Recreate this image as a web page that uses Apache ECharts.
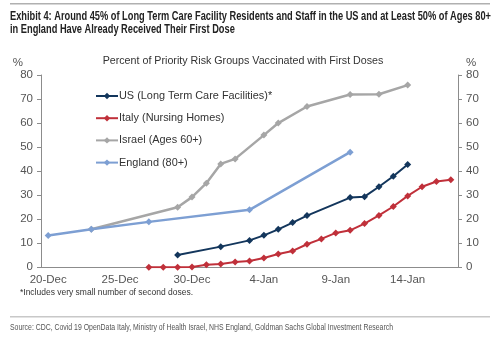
<!DOCTYPE html>
<html><head><meta charset="utf-8">
<script src="https://cdn.jsdelivr.net/npm/echarts@6/dist/echarts.min.js"></script>
<style>html,body{margin:0;padding:0;background:#fff}#c{width:500px;height:339px}</style>
</head><body><div id="c"></div>
<script>
const categories = ['20-Dec','21-Dec','22-Dec','23-Dec','24-Dec','25-Dec','26-Dec','27-Dec','28-Dec','29-Dec','30-Dec','31-Dec','1-Jan','2-Jan','3-Jan','4-Jan','5-Jan','6-Jan','7-Jan','8-Jan','9-Jan','10-Jan','11-Jan','12-Jan','13-Jan','14-Jan','15-Jan','16-Jan','17-Jan'];
const usValues      = [null,null,null,null,null,null,null,null,null,5.1,null,null,8.6,null,11.2,13.3,15.8,18.6,21.5,null,null,29.0,29.4,33.5,37.9,42.8,null,null,null];
const italyValues   = [null,null,null,null,null,null,null,0,0,0,0.1,1.1,1.4,2.2,2.6,3.9,5.5,6.8,9.6,11.8,14.3,15.4,18.2,21.6,25.3,29.7,33.5,35.7,36.4];
const israelValues  = [null,null,null,15.8,null,null,null,null,null,25.0,29.2,35.0,43.0,45.1,null,55.0,60.0,null,66.9,null,null,71.9,null,72.0,null,75.8,null,null,null];
const englandValues = [13.2,null,null,15.8,null,null,null,18.9,null,null,null,null,null,null,23.9,null,null,null,null,null,null,47.9,null,null,null,null,null,null,null];
const seriesNames = ['US (Long Term Care Facilities)*','Italy (Nursing Homes)','Israel (Ages 60+)','England (80+)'];
const yTicks = [0,10,20,30,40,50,60,70,80];

const titleLine1 = 'Exhibit 4: Around 45% of Long Term Care Facility Residents and Staff in the US and at Least 50% of Ages 80+';
const titleLine2 = 'in England Have Already Received Their First Dose';
const chartTitle = 'Percent of Priority Risk Groups Vaccinated with First Doses';
const footnote = '*Includes very small number of second doses.';
const sourceText = 'Source: CDC, Covid 19 OpenData Italy, Ministry of Health Israel, NHS England, Goldman Sachs Global Investment Research';

const cv = document.createElement('canvas').getContext('2d');
function fitScale(text, font, target){ cv.font = font; return target / cv.measureText(text).width; }
const tFont = 'bold 12px Arial, "Liberation Sans", sans-serif';
const s1 = fitScale(titleLine1, tFont, 481);
const sFont = '9px Arial, "Liberation Sans", sans-serif';
const s3 = fitScale(sourceText, sFont, 383);
const fFont = '9.5px Arial, "Liberation Sans", sans-serif';
const s4 = fitScale(footnote, fFont, 173);

const colors = ['#13365c','#c0303a','#a6a6a6','#7d9fd3'];
function mk(name, data, color, width){
  return {name, type:'line', data, connectNulls:true, symbol:'diamond', symbolSize:7,
    lineStyle:{color, width}, itemStyle:{color}, animation:false};
}
const chart = echarts.init(document.getElementById('c'));
chart.setOption({
  animation:false,
  color: colors,
  textStyle:{fontFamily:'Arial, "Liberation Sans", sans-serif'},
  grid:{left:41, right:42, top:75, bottom:71.7},
  legend:{orient:'vertical', left:95, top:90.5, padding:0, itemWidth:22, itemHeight:8, itemGap:11.2,
    textStyle:{fontSize:10.9, color:'#333', padding:[0,0,0,-4]}, data:seriesNames},
  xAxis:{type:'category', data:categories, boundaryGap:true,
    axisLine:{lineStyle:{color:'#8c8c8c', width:1}},
    axisTick:{interval:4, length:4, lineStyle:{color:'#8c8c8c'}},
    axisLabel:{interval:4, fontSize:11.5, color:'#555', margin:7}},
  yAxis:[
    {type:'value', min:yTicks[0], max:yTicks[yTicks.length-1], interval:10, position:'left',
     axisLine:{show:true, lineStyle:{color:'#8c8c8c'}}, axisTick:{show:true, length:4},
     splitLine:{show:false}, axisLabel:{fontSize:11.5, color:'#555', margin:8},
     name:'%', nameLocation:'end', nameGap:5, nameTextStyle:{fontSize:11.5, color:'#555', align:'right', padding:[0,18,0,0]}},
    {type:'value', min:yTicks[0], max:yTicks[yTicks.length-1], interval:10, position:'right',
     axisLine:{show:true, lineStyle:{color:'#8c8c8c'}}, axisTick:{show:true, length:4},
     splitLine:{show:false}, axisLabel:{fontSize:11.5, color:'#555', margin:8},
     name:'%', nameLocation:'end', nameGap:5, nameTextStyle:{fontSize:11.5, color:'#555', align:'left', padding:[0,0,0,8]}}
  ],
  series:[
    mk(seriesNames[0], usValues, colors[0], 2),
    mk(seriesNames[1], italyValues, colors[1], 2),
    mk(seriesNames[2], israelValues, colors[2], 2.5),
    mk(seriesNames[3], englandValues, colors[3], 2.5)
  ],
  graphic:[
    {type:'rect', shape:{x:10, y:3, width:480, height:1.5}, style:{fill:'#b0b0b0'}},
    {type:'text', x:10, y:10.5, scaleX:s1, style:{text:titleLine1, font:tFont, fill:'#222'}},
    {type:'text', x:10, y:24, scaleX:s1, style:{text:titleLine2, font:tFont, fill:'#222'}},
    {type:'text', x:243, y:56, style:{text:chartTitle, font:'10.7px Arial, "Liberation Sans", sans-serif', fill:'#333', align:'center'}},
    {type:'text', x:20, y:287, scaleX:s4, style:{text:footnote, font:fFont, fill:'#333'}},
    {type:'rect', shape:{x:10, y:316, width:480, height:1.5}, style:{fill:'#c8c8c8'}},
    {type:'text', x:10, y:323, scaleX:s3, style:{text:sourceText, font:sFont, fill:'#555'}}
  ]
});
</script></body></html>
